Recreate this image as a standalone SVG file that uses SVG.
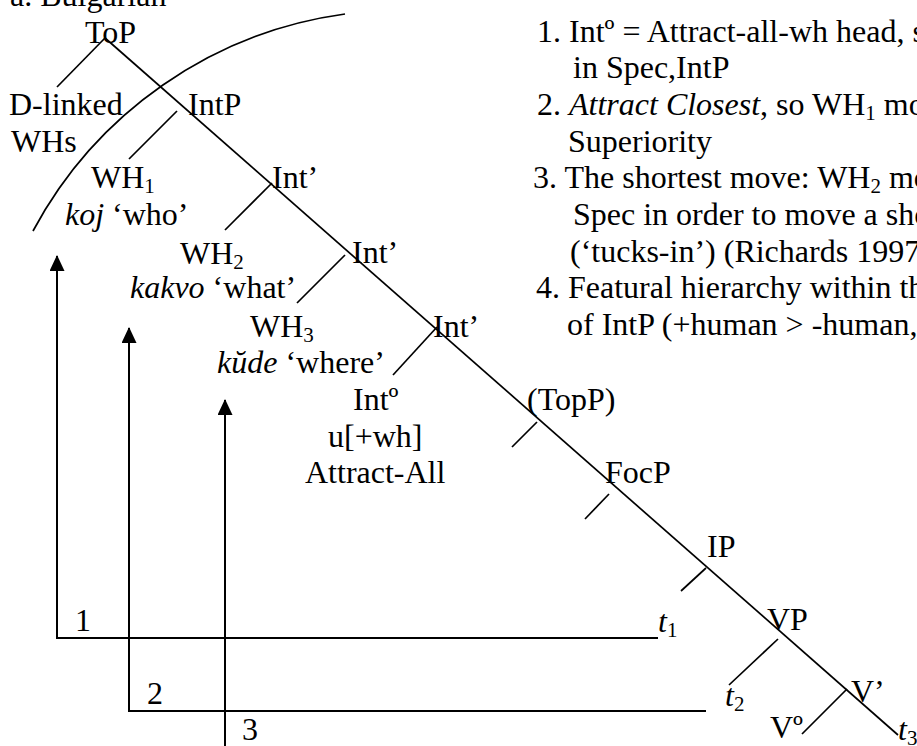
<svg xmlns="http://www.w3.org/2000/svg" width="917" height="746" viewBox="0 0 917 746">
<style>
text{font-family:"Liberation Serif","Times New Roman",serif;font-size:32px;fill:#000}
.it{font-style:italic}
.sub{font-size:21px}
.tree{stroke:#000;stroke-width:1.7;fill:none}
.arr{stroke:#000;stroke-width:2;fill:none}
</style>
<defs>
<marker id="ah" viewBox="0 0 16 15" refX="15" refY="7.5" markerWidth="16" markerHeight="15" markerUnits="userSpaceOnUse" orient="auto">
<path d="M0,0 L16,7.5 L0,15 z" fill="#000"/>
</marker>
</defs>
<rect width="917" height="746" fill="#fff"/>
<g id="title"><text x="10" y="6">a. Bulgarian</text></g>
<g id="connectors">
<path class="tree" d="M345,14 A418,418 0 0 0 33,231"/>
<line class="tree" x1="105" y1="38" x2="898" y2="735"/>
<line class="tree" x1="105" y1="38" x2="57" y2="87"/>
<line class="tree" x1="177" y1="111" x2="129" y2="159"/>
<line class="tree" x1="272" y1="183" x2="225" y2="230"/>
<line class="tree" x1="345" y1="255" x2="297" y2="303"/>
<line class="tree" x1="437" y1="327" x2="393" y2="375"/>
<line class="tree" x1="537" y1="422" x2="512" y2="447"/>
<line class="tree" x1="609" y1="494" x2="585" y2="519"/>
<line class="tree" x1="706" y1="568" x2="681" y2="591"/>
<line class="tree" x1="778" y1="639" x2="729" y2="685"/>
<line class="tree" x1="847" y1="689" x2="802" y2="734"/>
<path class="arr" d="M658,638 H57 V256" marker-end="url(#ah)"/>
<path class="arr" d="M706,711 H129 V328" marker-end="url(#ah)"/>
<path class="arr" d="M225,746 V400" marker-end="url(#ah)"/>
</g>
<g id="n-top"><text x="85" y="43">ToP</text></g>
<g id="n-dlinked"><text x="9" y="115">D-linked</text><text x="11" y="152">WHs</text></g>
<g id="n-intp"><text x="188" y="115">IntP</text></g>
<g id="n-wh1"><text x="91" y="188">WH<tspan class="sub" dy="5">1</tspan></text><text x="65" y="225"><tspan class="it">koj</tspan> ‘who’</text></g>
<g id="n-int1"><text x="272" y="188">Int’</text></g>
<g id="n-wh2"><text x="180" y="264">WH<tspan class="sub" dy="5">2</tspan></text><text x="130" y="298"><tspan class="it">kakvo</tspan> ‘what’</text></g>
<g id="n-int2"><text x="352" y="263">Int’</text></g>
<g id="n-wh3"><text x="250" y="337">WH<tspan class="sub" dy="5">3</tspan></text><text x="217" y="373"><tspan class="it">kŭde</tspan> ‘where’</text></g>
<g id="n-int3"><text x="433" y="337">Int’</text></g>
<g id="n-int0"><text x="353" y="410">Intº</text><text x="328" y="447">u[+wh]</text><text x="305" y="483">Attract-All</text></g>
<g id="n-topp"><text x="527" y="410">(TopP)</text></g>
<g id="n-focp"><text x="605" y="483">FocP</text></g>
<g id="n-ip"><text x="707" y="557">IP</text></g>
<g id="n-vp"><text x="767" y="630">VP</text></g>
<g id="n-vbar"><text x="851" y="702">V’</text></g>
<g id="n-v0"><text x="770" y="738">Vº</text></g>
<g id="n-t1"><text x="658" y="632"><tspan class="it">t</tspan><tspan class="sub" dy="5">1</tspan></text></g>
<g id="n-t2"><text x="725" y="706"><tspan class="it">t</tspan><tspan class="sub" dy="5">2</tspan></text></g>
<g id="n-t3"><text x="898" y="740"><tspan class="it">t</tspan><tspan class="sub" dy="5">3</tspan></text></g>
<g id="labels"><text x="75" y="631">1</text><text x="147" y="704">2</text><text x="242" y="740">3</text></g>
<g id="notes">
<text x="537" y="42">1. Intº = Attract-all-wh head, s</text>
<text x="573" y="78">in Spec,IntP</text>
<text x="537" y="115">2. <tspan class="it">Attract Closest</tspan>, so WH<tspan class="sub" dy="5">1</tspan><tspan dy="-5"> mo</tspan></text>
<text x="568" y="152">Superiority</text>
<text x="533" y="188">3. The shortest move: WH<tspan class="sub" dy="5">2</tspan><tspan dy="-5"> mo</tspan></text>
<text x="573" y="225">Spec in order to move a sho</text>
<text x="570" y="262">(‘tucks-in’) (Richards 1997</text>
<text x="536" y="298">4. Featural hierarchy within th</text>
<text x="567" y="335">of IntP (+human &gt; -human,</text>
</g>
</svg>
